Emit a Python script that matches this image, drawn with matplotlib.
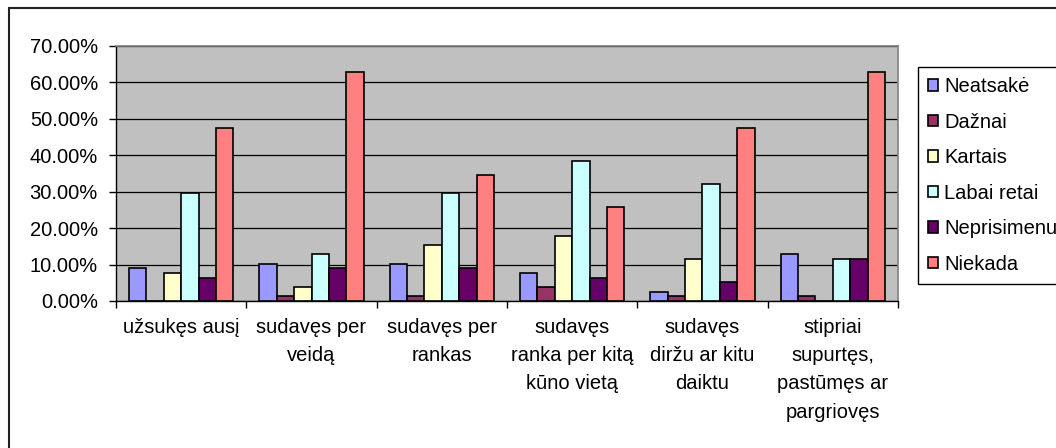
import numpy as np
import matplotlib
matplotlib.use('Agg')
import matplotlib.pyplot as plt
from matplotlib.patches import Rectangle
from matplotlib.ticker import PercentFormatter

categories = ['užsukęs ausį', 'sudavęs per\nveidą', 'sudavęs per\nrankas',
              'sudavęs\nranka per kitą\nkūno vietą', 'sudavęs\ndiržu ar kitu\ndaiktu',
              'stipriai\nsupurtęs,\npastūmęs ar\npargriovęs']
series_names = ['Neatsakė', 'Dažnai', 'Kartais', 'Labai retai', 'Neprisimenu', 'Niekada']
neatsake = [8.97, 10.26, 10.26, 7.69, 2.56, 12.82]
dazna = [0.0, 1.28, 1.28, 3.85, 1.28, 1.28]
kartais = [7.69, 3.85, 15.38, 17.95, 11.54, 0.0]
labai_retai = [29.49, 12.82, 29.49, 38.46, 32.05, 11.54]
neprisimenu = [6.41, 8.97, 8.97, 6.41, 5.13, 11.54]
niekada = [47.44, 62.82, 34.62, 25.64, 47.44, 62.82]
colors = ['#9999FF', '#993366', '#FFFFCC', '#CCFFFF', '#660066', '#FF8080']

plt.rcParams['font.family'] = ['Liberation Sans', 'DejaVu Sans']
plt.rcParams['font.size'] = 14.5

fig = plt.figure(figsize=(10.56, 4.48), dpi=100)
ax = fig.add_axes([116 / 1056, 1 - 301 / 448, (898 - 116) / 1056, (301 - 45.7) / 448])

# outer chart border (cropped at right and bottom)
fig.patches.append(Rectangle((9 / 1056, -0.1), 1.2, 1 - 8 / 448 + 0.1,
                             transform=fig.transFigure, fill=False,
                             edgecolor='#222222', linewidth=1.5))

data = [neatsake, dazna, kartais, labai_retai, neprisimenu, niekada]
x = np.arange(len(categories))
w = 1 / 7.5
for i, (vals, name, c) in enumerate(zip(data, series_names, colors)):
    ax.bar(x + (i - 2.5) * w, vals, width=w, color=c, edgecolor='black',
           linewidth=1.2, label=name, zorder=3)

ax.set_facecolor('#C0C0C0')
ax.set_xlim(-0.5, len(categories) - 0.5)
ax.set_ylim(0, 70)
ax.set_yticks(np.arange(0, 71, 10))
ax.yaxis.set_major_formatter(PercentFormatter(decimals=2))
ax.grid(axis='y', color='black', linewidth=0.9, zorder=1)
ax.set_axisbelow(True)

ax.set_xticks(x)
ax.set_xticklabels(categories, linespacing=1.62)
ax.tick_params(axis='x', length=0, pad=12)
ax.set_xticks(np.arange(-0.5, len(categories), 1), minor=True)
ax.tick_params(axis='x', which='minor', length=5, width=1, color='black')
ax.tick_params(axis='y', length=5, width=1, pad=8)

for s in ['top', 'right']:
    ax.spines[s].set_color('#808080')
    ax.spines[s].set_linewidth(1.2)
for s in ['left', 'bottom']:
    ax.spines[s].set_color('black')
    ax.spines[s].set_linewidth(1.0)

leg = fig.legend(loc='upper left', bbox_to_anchor=(918 / 1056, 1 - 67 / 448),
                 borderaxespad=0, fancybox=False, edgecolor='black', framealpha=1,
                 handlelength=0.5, handleheight=0.5, handletextpad=0.3,
                 labelspacing=0.82, borderpad=0.5)
leg.get_frame().set_linewidth(1.0)

fig.savefig('out.png', dpi=100)
